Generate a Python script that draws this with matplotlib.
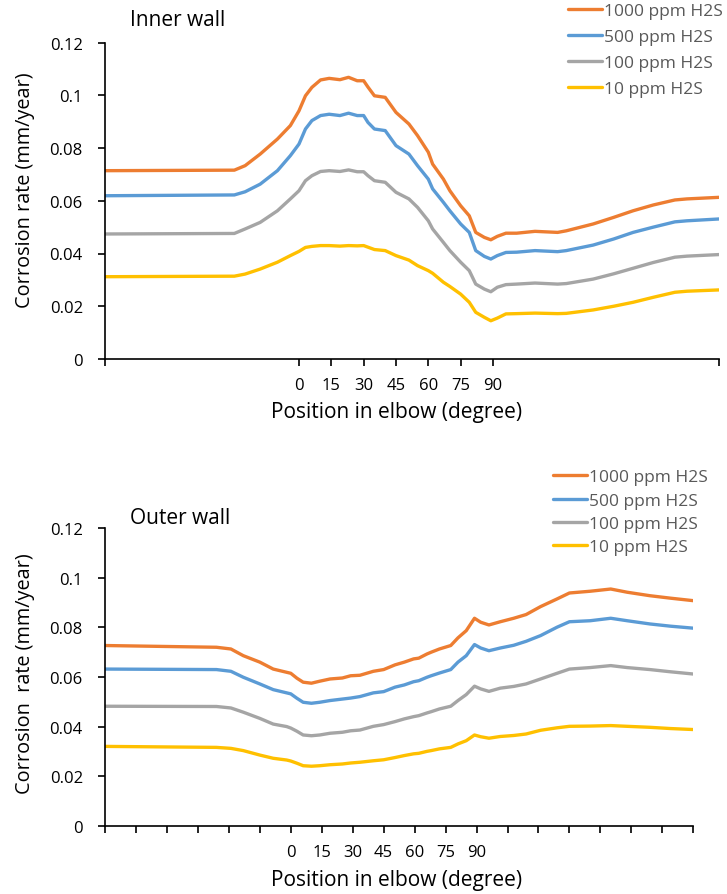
import matplotlib
matplotlib.use("Agg")
import matplotlib.pyplot as plt

plt.rcParams["font.family"] = ["Open Sans", "DejaVu Sans"]

series_labels = ["1000 ppm H2S", "500 ppm H2S", "100 ppm H2S", "10 ppm H2S"]
series_colors = ["#ED7D31", "#5B9BD5", "#A5A5A5", "#FFC000"]

# inner wall, position along pipe in degree units (straight sections outside 0-90)
inner_pos = [-90, -30, -25, -18, -10, -4, 0, 3, 6, 10, 14, 19, 23, 27, 30, 32, 35, 40,
             45, 51, 55, 60, 62, 67, 70, 75, 79, 82, 86, 89, 92, 96, 101, 109.5, 120,
             124, 136.5, 146, 155, 164.4, 174.4, 180, 195]
inner_1000 = [0.0714, 0.0716, 0.0733, 0.0777, 0.0834, 0.0885, 0.0941, 0.0998, 0.1030,
              0.1058, 0.1064, 0.1059, 0.1068, 0.1055, 0.1055, 0.1031, 0.0998, 0.0992,
              0.0935, 0.0891, 0.0847, 0.0784, 0.0739, 0.0682, 0.0638, 0.0581, 0.0543,
              0.0480, 0.0461, 0.0452, 0.0465, 0.0477, 0.0477, 0.0484, 0.0480, 0.0486,
              0.0512, 0.0537, 0.0562, 0.0584, 0.0603, 0.0607, 0.0613]
inner_500 = [0.0619, 0.0622, 0.0634, 0.0663, 0.0714, 0.0771, 0.0815, 0.0872, 0.0904,
             0.0923, 0.0928, 0.0923, 0.0932, 0.0923, 0.0923, 0.0897, 0.0872, 0.0866,
             0.0809, 0.0777, 0.0733, 0.0682, 0.0645, 0.0594, 0.0562, 0.0512, 0.0480,
             0.0411, 0.0389, 0.0379, 0.0392, 0.0404, 0.0405, 0.0411, 0.0407, 0.0411,
             0.0432, 0.0455, 0.0480, 0.0500, 0.0520, 0.0524, 0.0531]
inner_100 = [0.0474, 0.0476, 0.0493, 0.0518, 0.0562, 0.0607, 0.0638, 0.0676, 0.0695,
             0.0711, 0.0714, 0.0711, 0.0717, 0.0710, 0.0710, 0.0695, 0.0676, 0.0670,
             0.0632, 0.0607, 0.0575, 0.0524, 0.0493, 0.0442, 0.0411, 0.0367, 0.0335,
             0.0284, 0.0265, 0.0255, 0.0272, 0.0282, 0.0284, 0.0288, 0.0284, 0.0286,
             0.0303, 0.0323, 0.0344, 0.0366, 0.0386, 0.0390, 0.0396]
inner_10 = [0.0312, 0.0314, 0.0322, 0.0341, 0.0367, 0.0392, 0.0408, 0.0423, 0.0427,
            0.0430, 0.0430, 0.0428, 0.0430, 0.0429, 0.0430, 0.0424, 0.0415, 0.0411,
            0.0392, 0.0375, 0.0354, 0.0335, 0.0325, 0.0291, 0.0275, 0.0246, 0.0215,
            0.0177, 0.0158, 0.0145, 0.0155, 0.0171, 0.0172, 0.0174, 0.0172, 0.0173,
            0.0186, 0.0200, 0.0215, 0.0234, 0.0253, 0.0257, 0.0262]

# outer wall
outer_pos = [-90, -36, -29, -23, -15, -8.5, -2, 0, 3, 6, 10, 14, 19, 25, 29, 33.5, 40,
             45, 50.5, 55, 59.5, 62, 66, 68, 72, 77.5, 81, 85, 89, 92, 96, 101.5, 108,
             114, 121, 129, 135, 145, 155, 163, 174, 184, 195]
outer_1000 = [0.0727, 0.0720, 0.0713, 0.0686, 0.0660, 0.0632, 0.0619, 0.0615, 0.0595,
              0.0579, 0.0575, 0.0583, 0.0592, 0.0596, 0.0605, 0.0607, 0.0623, 0.0630,
              0.0649, 0.0660, 0.0673, 0.0676, 0.0693, 0.0700, 0.0713, 0.0727, 0.0758,
              0.0787, 0.0837, 0.0821, 0.0810, 0.0823, 0.0837, 0.0852, 0.0884, 0.0915,
              0.0939, 0.0946, 0.0955, 0.0942, 0.0928, 0.0918, 0.0908]
outer_500 = [0.0632, 0.0630, 0.0623, 0.0599, 0.0572, 0.0549, 0.0536, 0.0532, 0.0514,
             0.0498, 0.0494, 0.0498, 0.0505, 0.0511, 0.0515, 0.0521, 0.0536, 0.0541,
             0.0559, 0.0568, 0.0581, 0.0585, 0.0599, 0.0605, 0.0616, 0.0630, 0.0660,
             0.0686, 0.0731, 0.0717, 0.0706, 0.0717, 0.0728, 0.0744, 0.0767, 0.0801,
             0.0823, 0.0827, 0.0837, 0.0827, 0.0814, 0.0805, 0.0797]
outer_100 = [0.0482, 0.0481, 0.0475, 0.0458, 0.0433, 0.0410, 0.0400, 0.0394, 0.0381,
             0.0366, 0.0363, 0.0366, 0.0373, 0.0377, 0.0383, 0.0386, 0.0401, 0.0408,
             0.0420, 0.0431, 0.0440, 0.0444, 0.0455, 0.0460, 0.0471, 0.0482, 0.0505,
             0.0529, 0.0563, 0.0552, 0.0542, 0.0555, 0.0562, 0.0572, 0.0592, 0.0615,
             0.0632, 0.0638, 0.0646, 0.0638, 0.0630, 0.0621, 0.0612]
outer_10 = [0.0320, 0.0316, 0.0312, 0.0303, 0.0285, 0.0272, 0.0265, 0.0261, 0.0252,
            0.0242, 0.0240, 0.0242, 0.0246, 0.0249, 0.0253, 0.0256, 0.0262, 0.0266,
            0.0275, 0.0283, 0.0290, 0.0292, 0.0300, 0.0303, 0.0310, 0.0316, 0.0330,
            0.0343, 0.0366, 0.0359, 0.0353, 0.0360, 0.0364, 0.0370, 0.0385, 0.0395,
            0.0401, 0.0402, 0.0404, 0.0401, 0.0397, 0.0392, 0.0388]

elbow_ticks = [0, 15, 30, 45, 60, 75, 90]
y_ticks = [0, 0.02, 0.04, 0.06, 0.08, 0.1, 0.12]
y_ticklabels = ["0", "0.02", "0.04", "0.06", "0.08", "0.1", "0.12"]

W, H = 727, 895
fig = plt.figure(figsize=(W / 100, H / 100), dpi=100)


def px_axes(left, top, right, bottom):
    return fig.add_axes([left / W, 1 - bottom / H, (right - left) / W, (bottom - top) / H])


def style(ax, ticks):
    ax.set_xlim(-90, 195)
    ax.set_ylim(0, 0.12)
    for s in ("top", "right"):
        ax.spines[s].set_visible(False)
    for s in ("left", "bottom"):
        ax.spines[s].set_linewidth(1.2)
    ax.set_yticks(y_ticks)
    ax.set_yticklabels(y_ticklabels)
    ax.set_xticks(ticks)
    ax.set_xticklabels([str(t) if t in elbow_ticks else "" for t in ticks])
    ax.tick_params(axis="both", direction="out", length=5, width=1.2,
                   labelsize=12, colors="black")
    ax.tick_params(axis="y", pad=11)
    ax.tick_params(axis="x", pad=8)


legend_kw = dict(loc="upper left", frameon=False, fontsize=12.5, handlelength=1.95,
                 handletextpad=0.15, borderpad=0, borderaxespad=0,
                 labelcolor="#595959")

ax1 = px_axes(105, 43.5, 719.3, 360)
for ys, c, lab in zip([inner_1000, inner_500, inner_100, inner_10], series_colors, series_labels):
    ax1.plot(inner_pos, ys, color=c, lw=2.4, label=lab, solid_capstyle="round")
style(ax1, [-90] + elbow_ticks + [195])
fig.legend(*ax1.get_legend_handles_labels(), bbox_to_anchor=(568 / W, 1 - 4 / H),
           labelspacing=0.56, **legend_kw)
fig.text(130 / W, 1 - 20 / H, "Inner wall", fontsize=15, va="center", ha="left")
fig.text(25 / W, 1 - 190 / H, "Corrosion rate (mm/year)", fontsize=14.3,
         rotation=90, va="center", ha="center")
fig.text(397 / W, 1 - 413 / H, "Position in elbow (degree)", fontsize=15,
         va="center", ha="center")

ax2 = px_axes(105, 529.3, 693.3, 826.7)
for ys, c, lab in zip([outer_1000, outer_500, outer_100, outer_10], series_colors, series_labels):
    ax2.plot(outer_pos, ys, color=c, lw=2.4, label=lab, solid_capstyle="round")
style(ax2, list(range(-90, 196, 15)))
fig.legend(*ax2.get_legend_handles_labels(), bbox_to_anchor=(553 / W, 1 - 470 / H),
           labelspacing=0.42, **legend_kw)
fig.text(130 / W, 1 - 519 / H, "Outer wall", fontsize=15, va="center", ha="left")
fig.text(25 / W, 1 - 674 / H, "Corrosion  rate (mm/year)", fontsize=14.3,
         rotation=90, va="center", ha="center")
fig.text(397 / W, 1 - 881 / H, "Position in elbow (degree)", fontsize=15,
         va="center", ha="center")

fig.savefig("out.png", dpi=100)
